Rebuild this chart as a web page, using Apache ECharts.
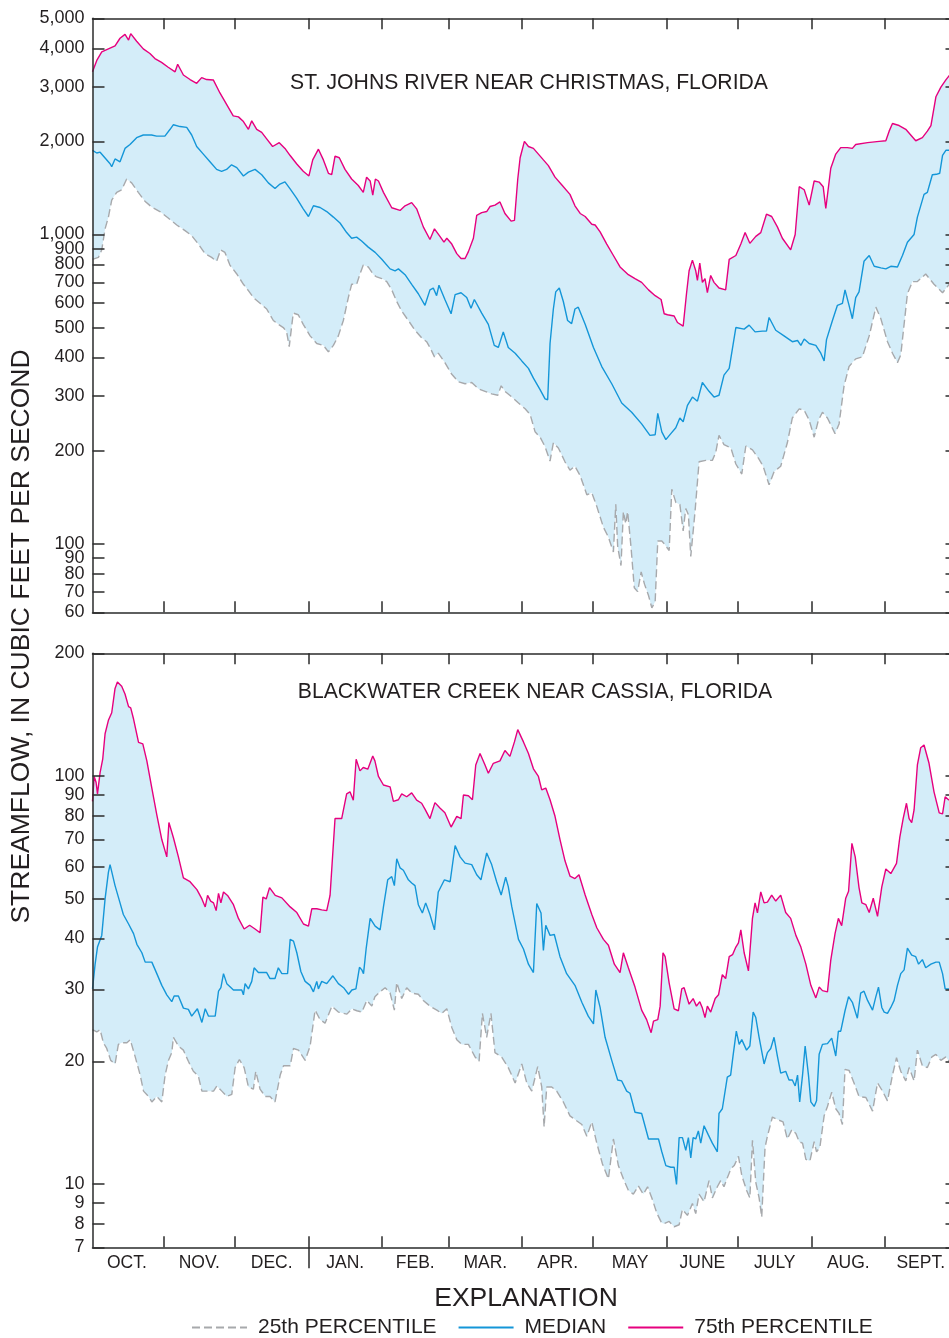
<!DOCTYPE html>
<html>
<head>
<meta charset="utf-8">
<title>Daily streamflow percentiles</title>
<script src="https://cdn.jsdelivr.net/npm/echarts@6/dist/echarts.min.js"></script>
<style>
  html, body { margin: 0; padding: 0; background: #ffffff; }
  #chart { width: 949px; height: 1338px; }
</style>
</head>
<body>
<div id="chart"></div>
<script>
// Day of the water year (Oct. 1 = day 1) paired with daily streamflow, in cubic feet per second.
const monthNames = ['OCT.', 'NOV.', 'DEC.', 'JAN.', 'FEB.', 'MAR.', 'APR.', 'MAY', 'JUNE', 'JULY', 'AUG.', 'SEPT.'];
const monthStarts = [31, 61, 92, 123, 151, 182, 212, 243, 273, 304, 335];
const monthMids = [15.5, 46, 76.5, 107.5, 137, 166.5, 197, 227.5, 258, 288.5, 319.5, 350];
const calendarYearStart = [92];

const stJohnsTicks = [60, 70, 80, 90, 100, 200, 300, 400, 500, 600, 700, 800, 900, 1000, 2000, 3000, 4000, 5000];
const blackwaterTicks = [7, 8, 9, 10, 20, 30, 40, 50, 60, 70, 80, 90, 100, 200];

// St. Johns River near Christmas, Florida
const stJohnsP75 = [
  [1, 3356], [2.8, 3655], [4.9, 3891], [7.7, 3981], [10.5, 4071], [12.6, 4310], [14.7, 4437], [16.2, 4251],
  [17.1, 4460], [19.6, 4215], [22.4, 3981], [25.2, 3847], [27.3, 3706], [30.1, 3602], [32.9, 3472], [35.8, 3356],
  [36.9, 3552], [39.3, 3279], [42.1, 3169], [44.9, 3081], [47.0, 3215], [49.1, 3169], [51.9, 3160], [54.7, 2868],
  [57.5, 2634], [60.3, 2418], [62.5, 2400], [64.6, 2317], [66.7, 2188], [68.1, 2330], [70.2, 2188], [72.3, 2139],
  [74.4, 2038], [76.9, 1925], [79.7, 1981], [82.1, 1898], [84.2, 1803], [87.0, 1693], [89.8, 1600], [92.2, 1546],
  [93.8, 1742], [96.2, 1887], [98.3, 1742], [100.4, 1577], [101.8, 1560], [103.2, 1793], [105.0, 1770], [107.4, 1623],
  [110.2, 1511], [113.0, 1440], [115.1, 1368], [116.5, 1532], [118.0, 1489], [119.1, 1340], [120.2, 1511], [121.5, 1489],
  [123.6, 1368], [127.1, 1220], [130.6, 1196], [132.7, 1238], [135.5, 1267], [137.6, 1210], [140.4, 1058], [143.2, 963],
  [145.1, 1043], [147.4, 986], [149.1, 944], [150.3, 972], [152.4, 931], [154.5, 867], [156.3, 836], [158, 836],
  [159.4, 880], [161.5, 972], [162.9, 1153], [165, 1176], [167.1, 1186], [168.5, 1231], [170.6, 1244], [172.7, 1274],
  [174.8, 1169], [177.4, 1104], [178.8, 1110], [180.2, 1511], [181.2, 1770], [183, 2000], [184.7, 1925], [186.8, 1898],
  [188.9, 1819], [191, 1742], [193.1, 1669], [195.9, 1532], [198.7, 1448], [202.2, 1348], [204.3, 1238], [206.5, 1169],
  [208.6, 1143], [211.4, 1079], [212.8, 1073], [214.9, 1020], [217.7, 931], [220.5, 855], [223.3, 785], [226.8, 741],
  [229.6, 720], [232.4, 700], [235.3, 662], [238.1, 634], [240.6, 616], [241.9, 554], [243.3, 550], [246.1, 545],
  [247.5, 519], [249.9, 505], [251.3, 643], [252.4, 763], [253.8, 826], [255.2, 763], [255.9, 710], [256.9, 808],
  [258, 700], [259.1, 720], [260.1, 648], [261.5, 737], [262.9, 700], [265, 671], [267.8, 662], [269.3, 831],
  [272.1, 855], [274.2, 931], [276, 1014], [278, 936], [280.5, 986], [282.6, 1014], [285, 1163], [287.2, 1143],
  [289.6, 1058], [291.7, 972], [295.2, 892], [297.1, 1000], [298.8, 1427], [300.9, 1395], [303, 1244], [305.1, 1489],
  [307.2, 1477], [308.9, 1427], [310, 1213], [312.1, 1637], [314.2, 1819], [316.3, 1909], [319.1, 1909], [321.2, 1898],
  [322.6, 1953], [327.6, 1981], [332.5, 2000], [335.3, 2009], [336.7, 2158], [338.1, 2284], [340.9, 2250], [343.7, 2188],
  [347.9, 2009], [350.7, 2056], [352.8, 2158], [354.3, 2250], [356.4, 2787], [358.5, 2994], [360.6, 3160], [362, 3262],
  [365, 3330]
];

const stJohnsMedian = [
  [1, 1871], [2.8, 1834], [4.2, 1845], [6.3, 1767], [8.4, 1693], [9.1, 1656], [10.5, 1755], [12.6, 1718],
  [14.7, 1898], [16.8, 1953], [19.6, 2056], [22.4, 2097], [25.9, 2097], [28.0, 2080], [31.5, 2080], [33.7, 2188],
  [35.1, 2264], [37.9, 2233], [40.7, 2220], [42.8, 2097], [44.9, 1925], [47.7, 1819], [50.5, 1718], [53.3, 1623],
  [55.4, 1600], [57.5, 1623], [59.6, 1679], [61.8, 1644], [64.6, 1546], [66.7, 1590], [69.5, 1623], [72.3, 1560],
  [75.1, 1468], [77.9, 1407], [80.0, 1455], [82.1, 1480], [84.2, 1407], [87.0, 1311], [89.8, 1210], [92.0, 1143],
  [94.1, 1238], [96.9, 1222], [99.7, 1186], [102.5, 1138], [105.3, 1089], [108.1, 1014], [110.2, 972], [112.3, 980],
  [114.4, 952], [117.2, 910], [120.1, 875], [122.9, 831], [126.4, 774], [128.5, 763], [129.9, 774], [132.7, 741],
  [135.5, 690], [138.3, 643], [141.1, 590], [143.2, 662], [144.6, 671], [146, 634], [147, 685], [149.5, 616],
  [152.1, 554], [153.8, 639], [156.3, 648], [158.7, 625], [160.5, 577], [161.9, 616], [165, 557], [167.8, 512],
  [170.3, 438], [172, 431], [174.1, 484], [176.2, 431], [179.1, 413], [181.9, 390], [184.7, 369], [186.8, 343],
  [189.6, 315], [191.7, 294], [192.8, 292], [193.8, 444], [195.2, 574], [196.2, 652], [197.7, 671], [199.4, 607],
  [201.2, 527], [202.9, 515], [204.3, 574], [205.7, 582], [208.6, 512], [212.1, 431], [215.6, 374], [219.8, 329],
  [224, 285], [228.2, 266], [232.4, 244], [235.9, 224], [238.1, 225], [239.2, 264], [240.9, 230], [242.6, 217],
  [244.7, 227], [246.8, 237], [248.5, 255], [249.9, 248], [251.7, 280], [253.8, 298], [255.9, 289], [258, 332],
  [260.8, 311], [262.9, 298], [265, 302], [267.1, 351], [269.3, 369], [272.1, 500], [275.6, 494], [277.7, 509],
  [280.2, 484], [283.3, 487], [285, 487], [286.1, 539], [288.9, 490], [292.4, 470], [295.9, 450], [298.1, 454],
  [299.5, 438], [300.9, 459], [303, 444], [305.8, 438], [307.9, 413], [309.3, 390], [310.3, 457], [312.8, 527],
  [314.9, 590], [317, 599], [318.1, 662], [319.8, 590], [321.2, 534], [322.6, 625], [324, 652], [326.1, 819],
  [328.3, 855], [330.4, 789], [333.2, 780], [335.3, 774], [337.4, 789], [340.2, 785], [342.3, 855], [344.4, 944],
  [347.2, 1000], [348.6, 1138], [351.4, 1348], [352.8, 1368], [354.9, 1560], [356.6, 1565], [358, 1577], [359.2, 1803],
  [360.6, 1871], [365, 1871]
];

const stJohnsP25 = [
  [1, 831], [3.5, 843], [4.9, 892], [6.3, 1043], [7.7, 1138], [9.1, 1292], [11.2, 1368], [13.3, 1395],
  [15.4, 1511], [17.5, 1468], [20.3, 1368], [23.1, 1281], [25.9, 1227], [29.4, 1186], [32.9, 1130], [36.5, 1073],
  [40.0, 1029], [42.8, 991], [45.6, 931], [48.4, 867], [51.2, 843], [53.3, 819], [55.0, 892], [56.8, 875],
  [58.9, 796], [61.8, 745], [64.6, 690], [66.7, 658], [68.8, 625], [71.6, 599], [74.4, 574], [77.2, 527],
  [79.3, 512], [81.4, 500], [82.8, 484], [83.9, 434], [85.6, 557], [87.7, 550], [89.8, 512], [92.7, 470],
  [95.5, 444], [98.3, 438], [100.4, 417], [102.5, 438], [104.6, 470], [106.7, 527], [108.8, 625], [110.2, 690],
  [112.3, 690], [113.7, 745], [115.1, 796], [117.2, 785], [119.4, 741], [120.5, 731], [122.9, 720], [125, 704],
  [127.1, 662], [129.2, 607], [131.3, 565], [134.1, 527], [136.9, 490], [139.7, 463], [141.8, 450], [143.2, 431],
  [145.1, 402], [146.7, 413], [149.5, 385], [152.4, 353], [155.2, 334], [158, 329], [160.8, 332], [163.6, 317],
  [166.4, 311], [169.2, 305], [171.8, 302], [173.2, 324], [174.8, 311], [177.7, 298], [180.5, 285], [183.3, 273],
  [185.4, 262], [187.5, 230], [189.6, 221], [191.7, 206], [193.8, 185], [195.2, 212], [197.3, 204], [200.1, 184],
  [202.2, 173], [204.3, 178], [206.5, 166], [209.3, 144], [211.4, 146], [213.5, 132], [216.3, 113], [218.4, 105],
  [220.5, 94], [221.5, 134], [222.3, 98], [223.7, 85], [224.7, 127], [225.7, 116], [226.5, 127], [227.9, 98],
  [229.3, 72], [230.7, 70], [232.2, 81], [233.6, 74], [235.3, 68], [236.7, 62], [238.1, 65], [239.2, 102],
  [240.9, 102], [241.9, 100], [244, 95], [245.1, 150], [246.8, 136], [248.5, 134], [249.9, 110], [251, 130],
  [252.1, 124], [253.1, 91], [254.9, 127], [256.6, 184], [259.4, 186], [262.2, 186], [263.6, 197], [265, 224],
  [267.1, 209], [270, 204], [272.1, 181], [274.6, 168], [276.3, 207], [279.1, 201], [281.6, 189], [283.6, 178],
  [286.1, 155], [288.2, 171], [291, 178], [293.8, 212], [295.9, 255], [298.8, 273], [300.9, 270], [303, 251],
  [305.1, 221], [306.9, 251], [308.6, 266], [310.7, 255], [313.9, 227], [315.6, 244], [317.7, 324], [319.8, 374],
  [322.6, 396], [325.4, 402], [328.3, 470], [331.1, 582], [333.2, 534], [336, 450], [338.1, 413], [340.2, 385],
  [341.6, 408], [344.4, 643], [346.5, 704], [348.6, 704], [352.1, 745], [355.6, 690], [359.2, 648], [362, 690],
  [365, 650]
];

// Blackwater Creek near Cassia, Florida
const blackwaterP75 = [
  [1, 86.7], [1.7, 99.8], [2.5, 96.6], [3.1, 90.5], [4.2, 102], [5.3, 110], [6.3, 127], [7.7, 137],
  [9.1, 143], [10.5, 164], [11.5, 170], [13.3, 166], [14.7, 159], [16.2, 148], [17.1, 147], [18.3, 138],
  [20.4, 121], [22.2, 120], [23.9, 109], [26, 93.5], [28.1, 80.4], [30.2, 69.9], [32.3, 63.4], [33.2, 77],
  [35.1, 70.6], [37.2, 63.4], [39.3, 56.3], [42.1, 55.1], [45, 52.7], [47.1, 50], [48.5, 47.8], [49.5, 51],
  [50.8, 49.4], [52, 48.9], [53.1, 46.8], [54.1, 51.6], [55.1, 48.9], [56.2, 52], [57.9, 51], [60.4, 48.4],
  [62.5, 44.8], [64.9, 42.2], [67.2, 43.1], [69.5, 42.2], [71.6, 41.3], [72.8, 50.5], [74.2, 50], [75.6, 53.3],
  [78, 51], [80.8, 50.3], [84.3, 47.8], [87.1, 46.3], [89.9, 43.4], [92, 42.9], [93.4, 47.3], [95.5, 47.3],
  [97.6, 47], [99.7, 46.8], [101.1, 51], [103.2, 78.7], [106, 78.7], [108.1, 90.5], [109.5, 91.5], [110.9, 87.3],
  [112.1, 110], [113.7, 103], [115.1, 105], [117, 104], [119.1, 112], [120, 109], [121.5, 99.8], [123.6, 95.1],
  [126.4, 94.1], [127.8, 86.7], [129.9, 87.5], [131.3, 90.5], [133.4, 89], [135.5, 91], [137.6, 87.3], [139.7, 85.8],
  [141.1, 83], [143.2, 78.7], [145.3, 86.1], [147.4, 83.5], [149.5, 81.3], [152.1, 75], [154.5, 79.7], [156.3, 78.7],
  [157.3, 89.9], [159.4, 89.5], [161.1, 87.5], [162.5, 106.5], [164.3, 113.6], [166.4, 106.5], [167.8, 101.6], [169.9, 107.5],
  [172.7, 109], [174.8, 115.6], [176.9, 111.8], [178.8, 121.3], [180.2, 130], [182.6, 121.3], [184.7, 113.6], [186.8, 104.2],
  [188.9, 99.8], [190.3, 92.5], [192, 93.5], [193.8, 87.5], [195.9, 79.7], [198, 69.9], [200.1, 62], [202.2, 56.9],
  [204.3, 56.1], [206, 57.3], [208.6, 51.1], [211.4, 45.8], [213.5, 42.5], [216.3, 39.8], [218.4, 38.5], [220.9, 34.6],
  [223.3, 33], [224.7, 36.9], [226.8, 33.9], [229.6, 30.4], [232.4, 26.7], [234.5, 25.3], [236.4, 23.5], [237.4, 25.1],
  [239.2, 25.3], [240.2, 27.3], [241.4, 36.9], [242.3, 36.1], [244, 31.1], [246.1, 26.9], [247.9, 26.6], [249.3, 30.1],
  [250.3, 30.3], [252.4, 27.6], [254.1, 28.5], [255.5, 27.3], [256.9, 28], [258, 27], [259.1, 25.6], [260.1, 27.3],
  [261.5, 26.4], [263.4, 28.5], [264.8, 29.1], [266.4, 32.6], [267.8, 31.9], [269.3, 36.1], [270.7, 36.5], [272.1, 38.1],
  [273.2, 39], [274.2, 42], [275.6, 36.9], [277.4, 33.3], [279.1, 44.8], [280.2, 48.9], [281.2, 46.2], [282.6, 52],
  [284, 48.9], [285.4, 49.1], [287.2, 51.1], [288.9, 49.4], [291, 51.1], [293.1, 46.3], [295.2, 44.8], [297.4, 40.7],
  [299.5, 38.1], [301.6, 34.6], [303.7, 30.7], [305.8, 28.6], [307.2, 30.4], [308.6, 29.8], [310.7, 29.6], [312.1, 35.4],
  [313.9, 41.1], [315.3, 44.8], [316.7, 43], [318.4, 50.2], [319.6, 52.2], [321, 68.4], [322.4, 63.4], [324, 53.3],
  [325.2, 48.9], [326.9, 48.4], [328.3, 46.3], [330, 50.2], [331.8, 45.3], [333.6, 53.5], [335.3, 59.2], [337.4, 57.7],
  [339.8, 61.1], [341.2, 70.9], [342.6, 78.7], [344, 85.8], [345.1, 78.7], [346.2, 76.9], [347.2, 82.6], [348.6, 106.5],
  [350, 117.4], [351.4, 119.2], [353.5, 107.5], [355.6, 91.5], [357.8, 81.3], [359.2, 80.8], [360.3, 89], [361.7, 87.5],
  [365, 88]
];

const blackwaterMedian = [
  [1, 30.1], [2.1, 34.6], [3.1, 38.1], [4.9, 40.7], [6.3, 50], [7.7, 58.1], [8.4, 60.7], [10.5, 53.9],
  [12.6, 48.9], [14, 45.8], [16.2, 43.4], [18.3, 41.1], [19.7, 38.7], [21.8, 36.9], [23.2, 35], [26, 35],
  [28.1, 32.8], [30.2, 30.7], [32.3, 29.1], [34.4, 28], [35.4, 28.9], [37.2, 28.9], [39.3, 27], [41.4, 26.8],
  [42.8, 25.8], [45.2, 26.9], [47.1, 24.9], [48.5, 26.9], [49.9, 25.8], [52.7, 25.8], [54.1, 29.7], [55.1, 30.3],
  [56.2, 32.8], [57.6, 31], [60.4, 29.9], [63.9, 29.9], [64.6, 29.1], [65.3, 31], [66.7, 30.1], [68.1, 31.4],
  [69.1, 33.9], [70.9, 33], [74.4, 33], [75.8, 31.9], [77.9, 31.9], [79.3, 33.9], [80.8, 32.8], [83.2, 32.8],
  [84.3, 39.8], [85.7, 39.4], [87.1, 36.9], [88.8, 33.2], [90.6, 31.4], [92.7, 30.7], [94.1, 29.6], [95.5, 31.4],
  [96.2, 30.1], [97.6, 31.4], [99.7, 31], [102.3, 32.4], [104.6, 31], [106.8, 30.3], [108.9, 29.2], [110.3, 29.9],
  [112, 30.1], [113.5, 34], [114.5, 33.5], [115.2, 32.8], [116.3, 37.7], [118, 44.8], [120.1, 42.9], [122.2, 42],
  [123.6, 47.8], [125.4, 55.7], [127.1, 56.7], [128.2, 53.9], [129.2, 62.7], [130.6, 59.6], [132, 58.8], [134.1, 55.7],
  [135.5, 54.7], [136.9, 53.9], [138.3, 48.4], [140, 46.2], [141.4, 48.9], [143.2, 45.8], [145.1, 42], [146.7, 52],
  [149.3, 55.7], [151.7, 55.1], [153.8, 67.6], [155.9, 63.4], [158, 61.2], [160.8, 60.7], [162.9, 57.3], [164.7, 55.7],
  [167.1, 64.8], [169.2, 60.7], [171.3, 55.1], [173.2, 51.1], [175.1, 56.5], [176.2, 53.6], [177.7, 47.8], [180.5, 39.8],
  [182.6, 37.7], [184.7, 34.6], [186.8, 33], [188.2, 48.7], [190, 46.2], [191, 37.4], [192, 43.1], [193.8, 40.7],
  [195.6, 40.9], [198, 36.1], [200.8, 32.8], [204.3, 30.7], [207.2, 27.9], [209.9, 25.8], [212.1, 24.7], [213.1, 29.9],
  [214.9, 27.1], [217, 22.9], [219.8, 20.1], [222.3, 18], [224, 17.9], [226.1, 16.9], [227.5, 16.7], [229.6, 15],
  [232.4, 14.9], [235.3, 12.9], [239.5, 12.9], [240.9, 12], [242.6, 11.1], [244.7, 11], [246.1, 11], [247.1, 9.98],
  [248.2, 13], [249.6, 13], [251, 12.1], [252.1, 13], [253.1, 11.6], [254.1, 13], [255.2, 12.9], [256.3, 13.5],
  [257.3, 12.6], [258.7, 13.9], [260.5, 13.2], [262.2, 12.6], [264.3, 12], [265, 14.9], [266.4, 15.3], [268.5, 18.3],
  [269.9, 18.5], [270.9, 20.6], [272.3, 23.7], [273.5, 22], [274.6, 22.6], [276.6, 21.3], [278, 21.8], [279.4, 26.4],
  [280.5, 25.6], [281.9, 22.9], [284, 19.7], [285.4, 21], [286.8, 21.5], [288.2, 22.9], [289.6, 20.6], [291, 18.7],
  [293.1, 18.9], [294.5, 18], [295.9, 18], [297.1, 17.4], [298.1, 18.5], [299, 15.9], [300.2, 18.5], [301.3, 21.8],
  [302.7, 18.5], [303.7, 15.9], [305.1, 15.5], [306.1, 16], [307.2, 20.8], [308.6, 22], [310.7, 22.1], [312.5, 22.8],
  [314.2, 20.6], [315.3, 23.7], [316.3, 23.7], [318.1, 26.6], [319.6, 28.8], [321.2, 27.9], [323.3, 25.5], [324.7, 29.4],
  [326.1, 29.7], [327.6, 28.2], [329.7, 26.7], [331.1, 28.8], [332.2, 30.4], [333.6, 27.1], [334.6, 26.4], [336, 26.2],
  [337.4, 27.1], [338.8, 28.2], [340.2, 30.7], [341.6, 32.8], [343, 33.5], [344.4, 37.9], [346.2, 36.4], [347.9, 36.1],
  [349.1, 34.6], [350.7, 35.5], [352.1, 33.9], [354.3, 34.6], [356.4, 35], [357.8, 35], [359.2, 32.8], [360.3, 30.1],
  [365, 30]
];

const blackwaterP25 = [
  [1, 23.9], [2.8, 23.6], [4.2, 23.9], [5.6, 22.2], [7, 21.5], [8.7, 20.1], [10.5, 19.7], [11.9, 22],
  [13.3, 22.2], [15.5, 22.2], [16.9, 22.6], [19, 20.5], [21.1, 18.5], [22.5, 16.9], [24.6, 16.4], [26, 15.9],
  [28.1, 16.4], [30.2, 15.9], [31.6, 18.5], [33, 20.1], [34.4, 21], [35.1, 22.9], [37.2, 21.8], [39.3, 21.3],
  [41.4, 20], [43.5, 18.9], [45.6, 18.4], [47.1, 16.9], [49.9, 16.9], [52, 16.9], [53.4, 17.4], [55.5, 16.9],
  [57.6, 16.4], [59.7, 16.6], [61.1, 19.3], [62.9, 20.2], [64.9, 19.3], [66.7, 17.3], [68.8, 17.1], [69.8, 18.9],
  [71.6, 17.1], [73.8, 16.4], [75.8, 16.4], [77.9, 15.9], [80.1, 18.5], [81.5, 19.5], [84.3, 19.5], [85.7, 21.5],
  [87.8, 21.3], [90.6, 20.1], [92.7, 21.8], [94.8, 26.7], [96.9, 25.3], [99, 24.8], [101.9, 27.3], [104.6, 26.4],
  [108.2, 26.1], [110.3, 26.9], [112.4, 26.6], [114.5, 26.4], [116.6, 28.2], [118.7, 27.3], [120, 28.8], [122.2, 29.6],
  [124.3, 30.3], [126.4, 29.4], [128.2, 26.7], [129.2, 31.2], [131.3, 28.5], [133.4, 30.3], [135.5, 29.4], [138.3, 29.2],
  [140.4, 28.2], [143.2, 27.3], [146.1, 26.7], [148.2, 26.2], [150.3, 26.9], [152.4, 24.2], [154.5, 22.6], [156.6, 22],
  [159.4, 22], [162.2, 20.5], [163.9, 20], [165.3, 26.2], [167.1, 22.9], [168.9, 26.2], [170.6, 21], [173.4, 20.5],
  [176.2, 19.3], [179.1, 17.7], [181.9, 19.7], [184, 17.7], [186.1, 16.9], [188.6, 19.4], [190.3, 17.3], [191.3, 13.8],
  [192.4, 17.3], [194.5, 17.3], [196.6, 16.9], [199.4, 15.9], [202.2, 14.7], [205, 14.3], [207.2, 14], [209.3, 13.1],
  [211.4, 14.2], [213.5, 12.6], [215.9, 11.2], [218.4, 10.3], [220.5, 12.9], [222.6, 11.1], [224.7, 10.3], [226.8, 9.66],
  [228.9, 9.45], [231, 9.9], [233.1, 9.45], [234.9, 9.85], [236.7, 9.25], [238.8, 8.49], [240.8, 8.04], [241.9, 8.0],
  [244, 8.1], [246.1, 7.86], [248.2, 7.95], [249.6, 8.67], [251.7, 8.38], [253.8, 8.96], [255.2, 8.47], [256.6, 9.45],
  [258.7, 9.05], [260.8, 10.2], [262.2, 9.25], [264.3, 9.85], [265.7, 10.2], [267.1, 9.85], [268.6, 10.4], [270, 10.9],
  [271.4, 11.1], [273.2, 11.7], [274.6, 10.5], [276.6, 9.66], [278, 9.25], [279.1, 12.8], [280.5, 10.1], [281.9, 9.25],
  [283, 8.3], [284.4, 12.3], [285.4, 13.1], [287.5, 14.6], [289.6, 14.4], [292, 14.2], [293.8, 12.9], [295.7, 13.6],
  [297.4, 13.3], [298.8, 12.7], [300.2, 12.6], [301.6, 11.5], [303.3, 11.4], [305.1, 12.7], [306.1, 12], [307.5, 12.3],
  [309.3, 14.7], [310.7, 15.5], [312.5, 16.8], [314.2, 15.3], [315.6, 14.9], [317, 14], [318.1, 19.1], [319.8, 19],
  [321.9, 17.7], [324, 16.4], [326.9, 16.3], [329.7, 15.1], [331.8, 17.7], [333.9, 16.9], [336, 16], [338.1, 18.5],
  [339.8, 20.4], [341.6, 18.9], [343.7, 17.9], [345.1, 19.3], [347.2, 17.9], [348.6, 21.3], [350.7, 19.5], [352.8, 19.3],
  [354.7, 20.5], [356.4, 20.8], [358.5, 20.1], [360.6, 20.5], [362, 20], [365, 19.8]
];

// Streamflow is plotted on a logarithmic value scale: values go in as base-10 logarithms.
const log10Points = (points) => points.map(([day, flow]) => [day, Math.log10(flow)]);
const log10List = (values) => values.map((v) => Math.log10(v));

const FONT = "'Liberation Sans', Arial, Helvetica, sans-serif";
const INK = '#231f20';
const AXIS = '#2b2b2b';
const MAGENTA = '#e6007e';
const BLUE = '#1496d8';
const GRAY = '#a7a9ac';
const BAND = '#d4edf9';

const withCommas = (n) => String(n).replace(/\B(?=(\d{3})+(?!\d))/g, ',');
const flowLabel = (v) => withCommas(Math.round(Math.pow(10, v)));
const monthLabel = (v) => {
  const i = monthMids.findIndex((m) => Math.abs(m - v) < 0.01);
  return i >= 0 ? monthNames[i] : '';
};

const DAY_MIN = 1;
const DAY_MAX = 365.5;
const PLOT_LEFT = 92.5;
const PLOT_WIDTH = 865;
const PLOT_HEIGHT = 594;

const axisLineStyle = { color: AXIS, width: 1.5 };

function dayAxis(gridIndex, position, opts) {
  opts = opts || {};
  return {
    type: 'value', gridIndex, position, min: DAY_MIN, max: DAY_MAX, z: 5,
    axisLine: { show: opts.line !== false, onZero: false, lineStyle: axisLineStyle },
    axisTick: {
      show: true, inside: opts.outward ? false : true, length: opts.tickLength || 11,
      customValues: opts.ticks || monthStarts, lineStyle: { color: AXIS, width: 1.5 }
    },
    axisLabel: opts.labels ? {
      show: true, customValues: monthMids, formatter: monthLabel, margin: 7,
      color: INK, fontSize: 17.5, fontFamily: FONT
    } : { show: false },
    splitLine: { show: false }
  };
}

function flowAxis(gridIndex, position, ticks, showLabels) {
  const logTicks = log10List(ticks);
  return {
    type: 'value', gridIndex, position, z: 5,
    min: Math.log10(ticks[0]), max: Math.log10(ticks[ticks.length - 1]),
    axisLine: { show: true, onZero: false, lineStyle: axisLineStyle },
    axisTick: { show: true, inside: true, length: 12, customValues: logTicks, lineStyle: { color: AXIS, width: 1.5 } },
    axisLabel: showLabels ? {
      show: true, customValues: logTicks, formatter: flowLabel, margin: 8,
      color: INK, fontSize: 18, fontFamily: FONT
    } : { show: false },
    splitLine: { show: false }
  };
}

function bandSeries(name, data, xi, yi) {
  return {
    name, type: 'line', xAxisIndex: xi, yAxisIndex: yi, data: log10Points(data),
    symbol: 'none', z: 1, silent: true,
    lineStyle: { color: MAGENTA, width: 1.4 },
    itemStyle: { color: MAGENTA },
    areaStyle: { color: BAND, opacity: 1, origin: 'start' }
  };
}
function lowerSeries(name, data, xi, yi) {
  // white area under the 25th percentile leaves the shaded band between the two percentiles
  return {
    name, type: 'line', xAxisIndex: xi, yAxisIndex: yi, data: log10Points(data),
    symbol: 'none', z: 2, silent: true,
    lineStyle: { color: GRAY, width: 1.4, type: [8, 4] },
    itemStyle: { color: GRAY },
    areaStyle: { color: '#ffffff', opacity: 1, origin: 'start' }
  };
}
function medianSeries(name, data, xi, yi) {
  return {
    name, type: 'line', xAxisIndex: xi, yAxisIndex: yi, data: log10Points(data),
    symbol: 'none', z: 3, silent: true,
    lineStyle: { color: BLUE, width: 1.4 },
    itemStyle: { color: BLUE }
  };
}

function centeredText(text, x, y, size, rotation) {
  return {
    type: 'text', x, y, rotation: rotation || 0, silent: true,
    style: { text, fill: INK, font: size + 'px ' + FONT,
             textAlign: 'center', textVerticalAlign: 'middle', align: 'center', verticalAlign: 'middle' }
  };
}

const chart = echarts.init(document.getElementById('chart'), null, { renderer: 'canvas' });

const option = {
  backgroundColor: '#ffffff',
  animation: false,
  grid: [
    { left: PLOT_LEFT, top: 18.3, width: PLOT_WIDTH, height: PLOT_HEIGHT, containLabel: false, outerBoundsMode: 'none' },
    { left: PLOT_LEFT, top: 653.3, width: PLOT_WIDTH, height: PLOT_HEIGHT, containLabel: false, outerBoundsMode: 'none' }
  ],
  xAxis: [
    dayAxis(0, 'bottom'),
    dayAxis(0, 'top'),
    dayAxis(1, 'bottom', { labels: true }),
    dayAxis(1, 'top'),
    dayAxis(1, 'bottom', { line: false, outward: true, tickLength: 21, ticks: calendarYearStart })
  ],
  yAxis: [
    flowAxis(0, 'left', stJohnsTicks, true),
    flowAxis(0, 'right', stJohnsTicks, false),
    flowAxis(1, 'left', blackwaterTicks, true),
    flowAxis(1, 'right', blackwaterTicks, false)
  ],
  legend: {
    show: true, left: 191, top: 1317, padding: 0, itemWidth: 55, itemHeight: 14, itemGap: 21,
    selectedMode: false,
    data: ['25th PERCENTILE', 'MEDIAN', '75th PERCENTILE'],
    itemStyle: { opacity: 0 },
    textStyle: { color: INK, fontSize: 21, fontFamily: FONT, padding: [0, 0, 0, 6] }
  },
  graphic: [
    centeredText('ST. JOHNS RIVER NEAR CHRISTMAS, FLORIDA', 529, 83, 21.2),
    centeredText('BLACKWATER CREEK NEAR CASSIA, FLORIDA', 535, 692, 21.2),
    centeredText('STREAMFLOW, IN CUBIC FEET PER SECOND', 22, 636.5, 26.5, Math.PI / 2),
    centeredText('EXPLANATION', 526, 1299, 26.5)
  ],
  series: [
    bandSeries('75th PERCENTILE', stJohnsP75, 0, 0),
    lowerSeries('25th PERCENTILE', stJohnsP25, 0, 0),
    medianSeries('MEDIAN', stJohnsMedian, 0, 0),
    bandSeries('75th PERCENTILE', blackwaterP75, 2, 2),
    lowerSeries('25th PERCENTILE', blackwaterP25, 2, 2),
    medianSeries('MEDIAN', blackwaterMedian, 2, 2)
  ]
};

chart.setOption(option);
</script>
</body>
</html>
